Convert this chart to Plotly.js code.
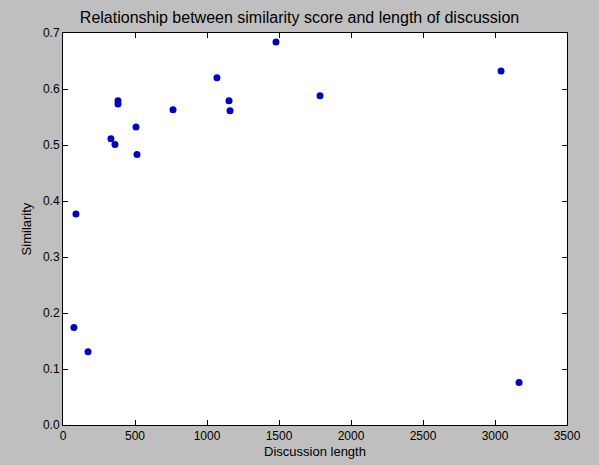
<!DOCTYPE html>
<html>
<head>
<script src="https://cdn.plot.ly/plotly-3.0.1.min.js"></script>
<style>body{margin:0;background:#bfbfbf;}</style>
</head>
<body>
<div id="chart" style="width:599px;height:465px;"></div>
<script>
var discussionLength = [90, 76, 174, 333, 361, 382, 382, 507, 514, 764, 1069, 1153, 1160, 1479, 1785, 3042, 3167];
var similarity = [0.377, 0.174, 0.131, 0.511, 0.501, 0.579, 0.573, 0.532, 0.483, 0.563, 0.62, 0.579, 0.561, 0.684, 0.588, 0.632, 0.076];

var axisStyle = {
  showline: true, mirror: "ticks", linecolor: "#000", linewidth: 1,
  ticks: "inside", ticklen: 5, tickcolor: "#000",
  showgrid: false, zeroline: false,
  tickfont: { size: 12, color: "#000" }
};

var layout = {
  width: 599, height: 465,
  paper_bgcolor: "#bfbfbf", plot_bgcolor: "#fff",
  font: { family: "Liberation Sans, Arial, sans-serif", color: "#000" },
  margin: { l: 63, r: 32, t: 33, b: 40 },
  title: { text: "Relationship between similarity score and length of discussion", font: { size: 16 }, x: 0.5, y: 0.975 },
  xaxis: Object.assign({}, axisStyle, {
    range: [0, 3500], dtick: 500,
    title: { text: "Discussion length", font: { size: 13 }, standoff: 4 }
  }),
  yaxis: Object.assign({}, axisStyle, {
    range: [0, 0.7], dtick: 0.1, tickformat: ".1f",
    title: { text: "Similarity", font: { size: 13 }, standoff: 8 }
  }),
  showlegend: false
};

Plotly.newPlot("chart", [{
  x: discussionLength, y: similarity,
  type: "scatter", mode: "markers",
  marker: { color: "#0000bf", size: 7 }
}], layout, { displayModeBar: false });
</script>
</body>
</html>
